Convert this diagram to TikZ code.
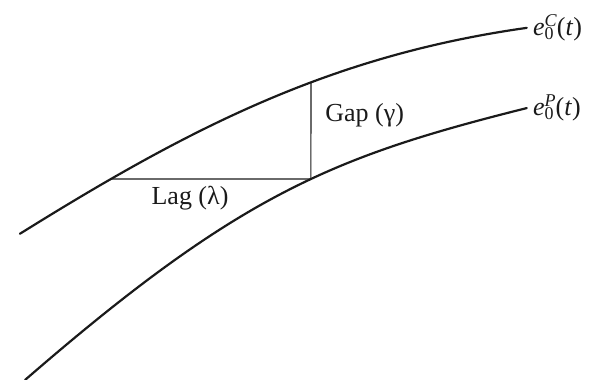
\documentclass[tikz,border=0pt]{standalone}
\usepackage{fontspec}
\setmainfont{Liberation Serif}
\usepackage{tikz}
\usetikzlibrary{positioning, calc, intersections}
\definecolor{inkcol}{HTML}{1A1A1A}
\tikzset{
  % thick curve = trajectory
  trajectory/.style={draw=inkcol, line width=1.1pt, line cap=round},
  % thin guide = lag / gap measure
  measure/.style={draw=inkcol, line width=0.55pt},
  % text labels
  lbl/.style={font=\fontsize{13}{15}\selectfont, text=inkcol, inner sep=1pt},
}
% e with stacked 0 and superscript, then (t)
\newcommand{\curvelabel}[1]{%
  \textit{e}\rlap{\raisebox{-0.35ex}{\fontsize{9}{9}\selectfont 0}}%
  \raisebox{0.75ex}{\fontsize{9}{9}\selectfont\textit{#1}}(\textit{t})%
}

\begin{document}
\begin{tikzpicture}
  \useasboundingbox (0,0) rectangle (10.46,6.68);
  \coordinate (cstart) at (0.35,2.57);
  \coordinate (cend)   at (9.26,6.19);
  \coordinate (pstart) at (0.44,0.0);
  \coordinate (pend)   at (9.26,4.78);
  % the two curves
  \draw[trajectory, name path=ccurve]
    (cstart) .. controls (3.32,4.42) and (5.79,5.70) .. (cend);
  \draw[trajectory, name path=pcurve]
    (pstart) .. controls (4.22,3.28) and (5.87,3.93) .. (pend)
    coordinate[pos=0.56] (gapfoot);
  % where the measures meet the upper curve
  \path[name path=vline] (gapfoot) -- ++(0,3);
  \path[name path=hline] (gapfoot) -- ++(-6,0);
  \path[name intersections={of=ccurve and vline, by=gaptop}];
  \path[name intersections={of=ccurve and hline, by=lagstart}];
  % lag and gap
  \draw[measure] (lagstart) -- (gapfoot);
  \draw[measure] (gapfoot) -- (gaptop);
  \node[lbl] (laglbl) at (3.34,3.20) {Lag (λ)};
  \node[lbl] (gaplbl) at (6.41,4.66) {Gap (γ)};
  % curve names
  \node[lbl, anchor=west] (clbl) at ([xshift=2pt]cend) {\curvelabel{C}};
  \node[lbl, anchor=west] (plbl) at ([xshift=2pt]pend) {\curvelabel{P}};
\end{tikzpicture}
\end{document}
